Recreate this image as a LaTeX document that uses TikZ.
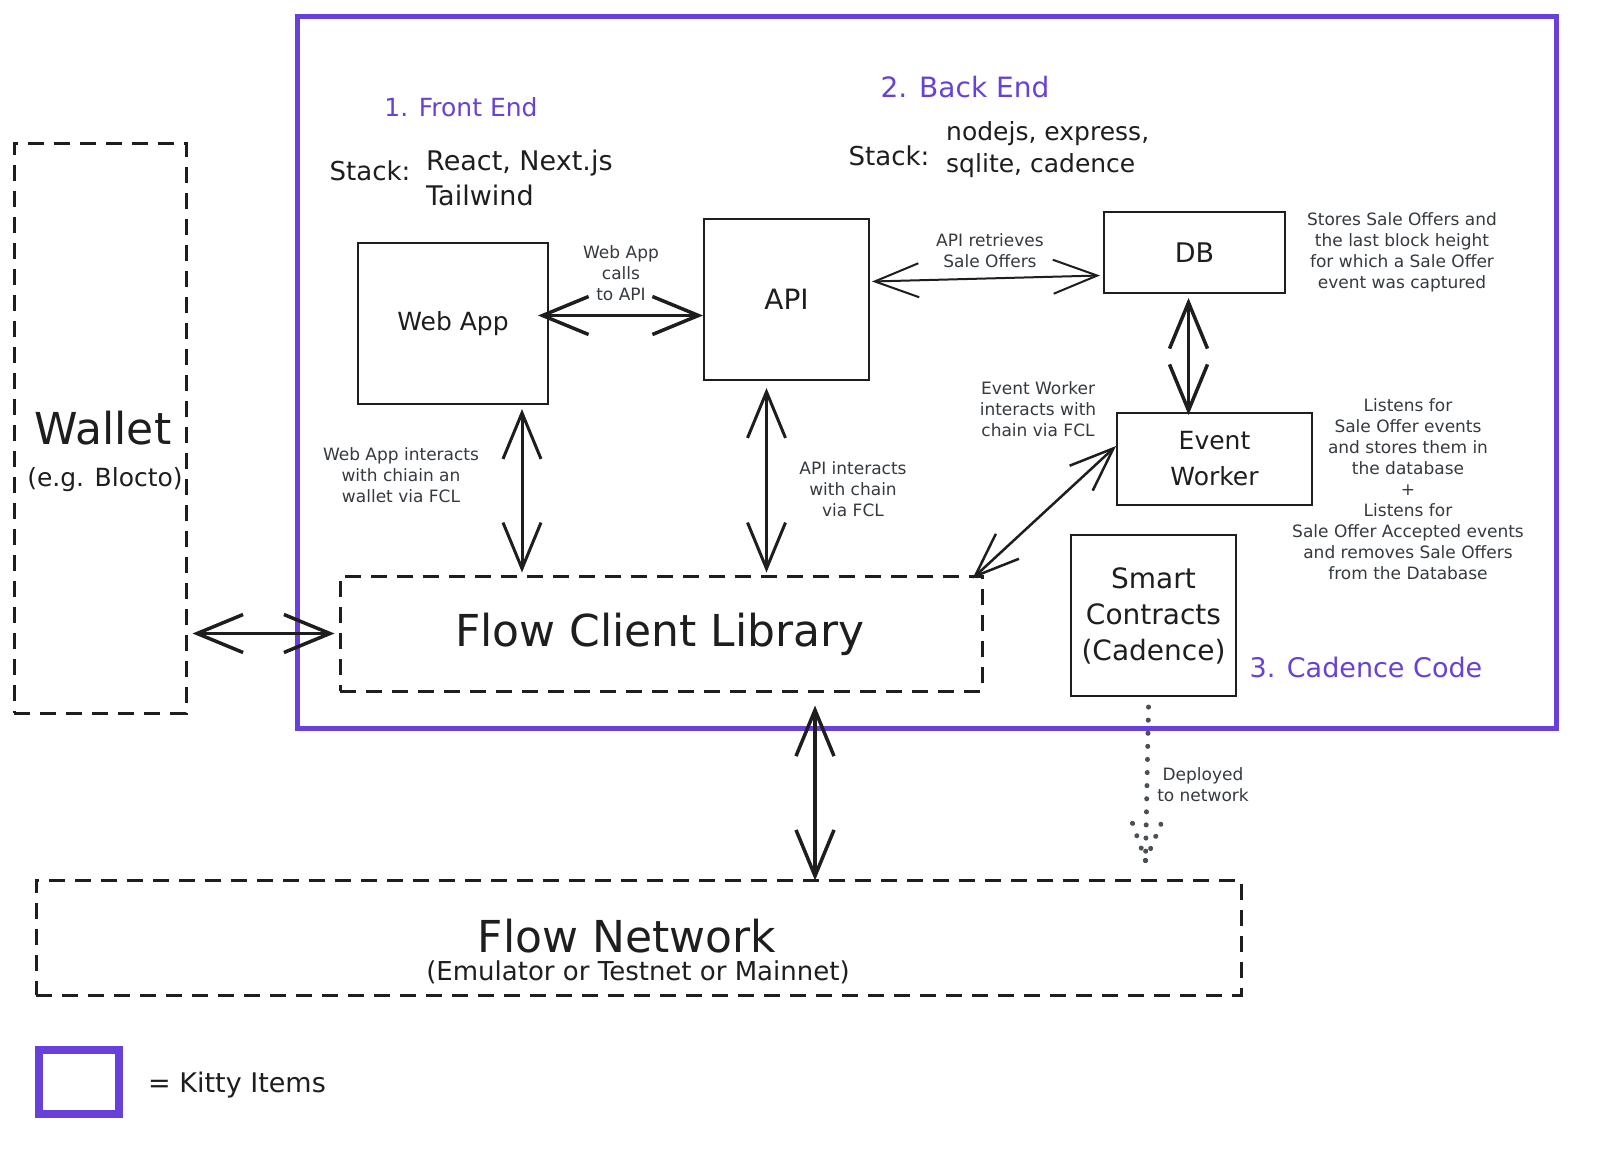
\documentclass[tikz,border=0pt]{standalone}
\usepackage{fontspec}
\setmainfont{DejaVu Sans}
\usetikzlibrary{arrows.meta,calc}
\definecolor{kitty}{HTML}{6741D9}
\definecolor{ink}{HTML}{1E1E1E}
\definecolor{notegray}{HTML}{343A40}
\definecolor{dotgray}{HTML}{495057}
\tikzset{
  box/.style={draw=ink,line width=2pt,inner sep=0pt},
  dbox/.style={draw=ink,line width=3pt,dash pattern=on 16pt off 10pt,inner sep=0pt},
  frame/.style={draw=kitty,line width=5pt,inner sep=0pt},
  txt/.style={text=ink,font=\fontsize{25}{30}\selectfont,align=center,inner sep=0pt},
  bigtxt/.style={text=ink,font=\fontsize{44}{50}\selectfont,align=center,inner sep=0pt},
  title/.style={text=kitty,font=\fontsize{26}{30}\selectfont,inner sep=0pt},
  note/.style={text=notegray,font=\fontsize{17}{21}\selectfont,align=center,inner sep=0pt},
  harrow/.style={draw=ink,line width=3.5pt,line cap=round,
    {Straight Barb[length=46pt,width=38pt]}-{Straight Barb[length=46pt,width=38pt]}},
  tarrow/.style={draw=ink,line width=2pt,line cap=round,
    {Straight Barb[length=44pt,width=34pt]}-{Straight Barb[length=44pt,width=34pt]}},
  dotline/.style={draw=dotgray,line width=5pt,line cap=round,dash pattern=on 0.1pt off 13pt}
}
\begin{document}
\begin{tikzpicture}[x=1pt,y=-1pt]
\useasboundingbox[fill=white] (0,0) rectangle (1600,1154);

% Kitty Items frame
\node[frame,minimum width=1259pt,minimum height=712pt] (kitty) at (926.5,372) {};

% Wallet
\node[dbox,minimum width=172pt,minimum height=570pt] (wallet) at (100,428) {};
\node[text=ink,font=\fontsize{44}{50}\selectfont,inner sep=0pt] (wallettxt) at (103,428) {Wallet};
\node[txt,font=\fontsize{25}{30}\selectfont] (walletsub) at (105,480) {(e.g. Blocto)};

% Titles and stacks
\node[title,font=\fontsize{25}{30}\selectfont] (fe) at (461,107) {1. Front End};
\node[title,font=\fontsize{28}{32}\selectfont] (be) at (965,87) {2. Back End};
\node[title,font=\fontsize{27}{32}\selectfont] (cc) at (1366,667) {3. Cadence Code};
\node[txt,font=\fontsize{26}{30}\selectfont] (stack1) at (370,171) {Stack:};
\node[txt,anchor=west,font=\fontsize{27}{32}\selectfont] (stack1a) at (426,163) {React, Next.js};
\node[txt,anchor=west,font=\fontsize{27}{32}\selectfont] (stack1b) at (426,195) {Tailwind};
\node[txt,font=\fontsize{26}{30}\selectfont] (stack2) at (889,156) {Stack:};
\node[txt,anchor=west] (stack2a) at (946,134) {nodejs, express,};
\node[txt,anchor=west] (stack2b) at (946,166) {sqlite, cadence};

% Boxes
\node[box,txt,minimum width=190pt,minimum height=161pt] (webapp) at (453,323.5) {Web App};
\node[box,txt,minimum width=165pt,minimum height=161pt,font=\fontsize{28}{32}\selectfont] (api) at (786.5,299.5) {API};
\node[box,txt,minimum width=181pt,minimum height=81pt,font=\fontsize{27}{30}\selectfont] (db) at (1194.5,252.5) {DB};
\node[box,txt,minimum width=195pt,minimum height=92pt,font=\fontsize{25}{36}\selectfont] (ew) at (1214.5,459) {Event\\Worker};
\node[box,txt,minimum width=165pt,minimum height=161pt,font=\fontsize{28}{36}\selectfont] (sc) at (1153.5,615.5) {Smart\\Contracts\\(Cadence)};
\node[dbox,minimum width=642pt,minimum height=115pt] (fcl) at (661,633.5) {};
\node[bigtxt] (fcltxt) at (660,634) {Flow Client Library};
\node[dbox,minimum width=1205pt,minimum height=115pt] (fn) at (638.5,937.5) {};
\node[bigtxt] (fntxt) at (627,936) {Flow Network};
\node[txt,font=\fontsize{26}{30}\selectfont] (fnsub) at (638,972) {(Emulator or Testnet or Mainnet)};

% Notes
\node[note] (n1) at (621,273) {Web App\\calls\\to API};
\node[note] (n2) at (990,251) {API retrieves\\Sale Offers};
\node[note] (n3) at (1402,252) {Stores Sale Offers and\\the last block height\\for which a Sale Offer\\event was captured};
\node[note] (n4) at (1038,409) {Event Worker\\interacts with\\chain via FCL};
\node[note] (n5) at (1408,489) {Listens for\\Sale Offer events\\and stores them in\\the database\\+\\Listens for\\Sale Offer Accepted events\\and removes Sale Offers\\from the Database};
\node[note] (n6) at (401,475) {Web App interacts\\with chiain an\\wallet via FCL};
\node[note] (n7) at (853,489) {API interacts\\with chain\\via FCL};
\node[note] (n8) at (1203,785) {Deployed\\to network};

% Connectors
\draw[harrow] ([xshift=-11pt,yshift=8pt]webapp.east) -- ([yshift=8pt]webapp.east -| api.west);
\draw[tarrow] ([xshift=2pt,yshift=18pt]api.east) -- ([xshift=-3pt,yshift=-23pt]db.west);
\draw[harrow] ([xshift=-6pt,yshift=-4pt]db.south) -- ([xshift=-6pt,yshift=-3pt]db.south |- ew.north);
\draw[harrow,line width=3pt] ([xshift=69pt,yshift=-4pt]webapp.south) -- ([xshift=69pt,yshift=2pt]webapp.south |- fcl.north);
\draw[harrow,line width=3pt] ([xshift=-20pt,yshift=-7pt]api.south) -- ([xshift=-20pt,yshift=2pt]api.south |- fcl.north);
\draw[tarrow,line width=2.5pt] ([yshift=13pt]ew.west) -- ([xshift=-11pt,yshift=-4pt]fcl.north east);
\draw[harrow] ([xshift=5pt]wallet.east |- fcl.west) -- ([xshift=-4pt]fcl.west);
\draw[harrow] ([xshift=154pt,yshift=-13pt]fcl.south) -- ([xshift=154pt,yshift=-2pt]fcl.south |- fn.north);

% Dotted deploy arrow
\coordinate (dstart) at ($(sc.south)+(-5,10)$);
\coordinate (dtip) at ($(sc.south |- fn.north)+(-8,-18)$);
\draw[dotline] (dstart) -- (dtip);
\draw[dotline] (dtip) -- ++(-14,-40);
\draw[dotline] (dtip) -- ++(17,-40);

% Legend
\node[frame,line width=8pt,minimum width=80pt,minimum height=64pt] (legend) at (79,1082) {};
\node[txt,anchor=west,font=\fontsize{27}{32}\selectfont] (legendtxt) at (148,1085) {= Kitty Items};
\end{tikzpicture}
\end{document}
